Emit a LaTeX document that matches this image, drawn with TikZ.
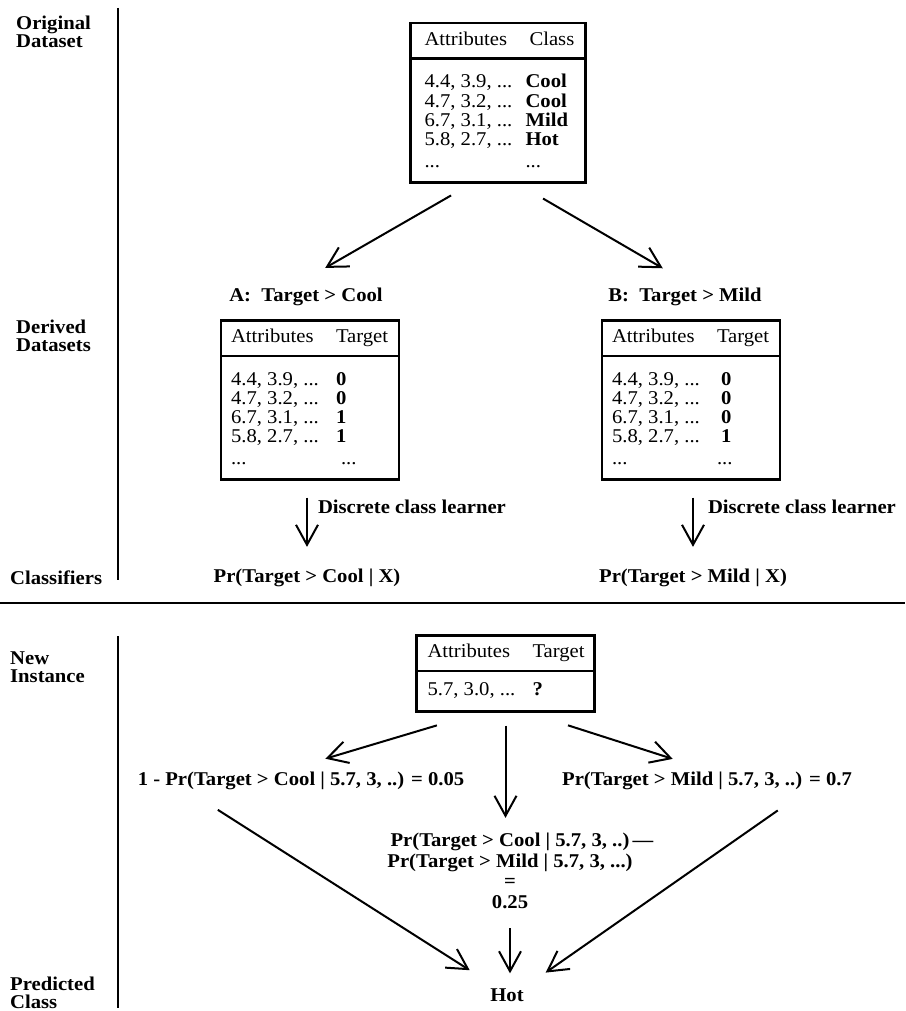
\documentclass[tikz,border=0pt]{standalone}
\usepackage{fontspec}
\setmainfont{Liberation Serif}[FakeStretch=1.06]
\usetikzlibrary{arrows.meta,shapes.multipart}

\newcommand{\basefont}{\fontsize{19.5}{19.5}\selectfont}

% table parts: left padding, width of second column, then contents
\newcommand{\tabhead}[3]{\begin{tabular}{@{\hspace{#1}}p{105pt}@{}p{#2}@{}}\rule[-12pt]{0pt}{33pt}Attributes & #3\end{tabular}}
\newcommand{\tabbody}[3]{\begin{tabular}{@{\hspace{#1}}p{105pt}@{}p{#2}@{}}#3\end{tabular}}
% first and last row struts
\newcommand{\firstrow}{\rule{0pt}{28pt}}
\newcommand{\lastrow}{\rule[-14pt]{0pt}{30.3pt}}

\tikzset{
  dataset/.style={draw, line width=2.5pt, rectangle split, rectangle split parts=2, inner sep=0pt, anchor=north,
    font=\fontsize{19.5}{19}\selectfont},
  tag/.style={font=\bfseries\fontsize{19.5}{18}\selectfont, align=left, anchor=west, inner sep=0pt},
  result/.style={font=\bfseries\basefont, align=center, inner sep=2pt},
  arr/.style={->, line width=2pt},
  bar/.style={line width=2.5pt},
}

\begin{document}
\begin{tikzpicture}[x=1pt, y=-1pt, font=\basefont,
  >={Straight Barb[length=20pt, width=22pt]}]
\useasboundingbox (0,0) rectangle (905,1011);

% Stage labels
\node[tag] (lorig) at (16,32) {Original\\Dataset};
\node[tag] (lderiv) at (16,336) {Derived\\Datasets};
\node[tag] (lclass) at (10,578) {Classifiers};
\node[tag] (lnew) at (10,667) {New\\Instance};
\node[tag] (lpred) at (10,993) {Predicted\\Class};

% Rules
\draw[bar] (118,8) -- (118,580);
\draw[bar] (0,603) -- (905,603);
\draw[bar] (118,636) -- (118,1008);

% Original dataset
\node[dataset] (orig) at (498,22) {\tabhead{14pt}{56pt}{Class}
  \nodepart{two}\tabbody{14pt}{56pt}{\firstrow 4.4, 3.9, ... & \hspace{-4pt}\textbf{Cool}\\
    4.7, 3.2, ... & \hspace{-4pt}\textbf{Cool}\\
    6.7, 3.1, ... & \hspace{-4pt}\textbf{Mild}\\
    5.8, 2.7, ... & \hspace{-4pt}\textbf{Hot}\\
    \lastrow ... & \hspace{-4pt}...}};

% Derived datasets
\node[result] (labA) at (306,297) {A:\ \ Target > Cool};
\node[result] (labB) at (685,297) {B:\ \ Target > Mild};

\node[dataset] (tabA) at (310,319) {\tabhead{10pt}{63pt}{Target}
  \nodepart{two}\tabbody{10pt}{63pt}{\firstrow 4.4, 3.9, ... & \textbf{0}\\
    4.7, 3.2, ... & \textbf{0}\\
    6.7, 3.1, ... & \textbf{1}\\
    5.8, 2.7, ... & \textbf{1}\\
    \lastrow ... & \hspace{5pt}...}};

\node[dataset] (tabB) at (691,319) {\tabhead{10pt}{63pt}{Target}
  \nodepart{two}\tabbody{10pt}{63pt}{\firstrow 4.4, 3.9, ... & \hspace{4pt}\textbf{0}\\
    4.7, 3.2, ... & \hspace{4pt}\textbf{0}\\
    6.7, 3.1, ... & \hspace{4pt}\textbf{0}\\
    5.8, 2.7, ... & \hspace{4pt}\textbf{1}\\
    \lastrow ... & ...}};

% Classifiers
\node[result] (prA) at (307,578) {Pr(Target > Cool | X)};
\node[result] (prB) at (693,578) {Pr(Target > Mild | X)};

% New instance
\node[dataset] (newi) at (505.5,634) {\tabhead{11pt}{62pt}{Target}
  \nodepart{two}\tabbody{11pt}{62pt}{\rule[-15pt]{0pt}{38pt}5.7, 3.0, ... & \textbf{?}}};

\node[result] (resL) at (301,781) {1 - Pr(Target > Cool | 5.7, 3, ..) = 0.05};
\node[result] (resR) at (707,781) {Pr(Target > Mild | 5.7, 3, ..) = 0.7};
\node[result, font=\bfseries\fontsize{19.5}{20.7}\selectfont] (mid) at (510,871)
  {Pr(Target > Cool | 5.7, 3, ..)\rlap{\,---}\\Pr(Target > Mild | 5.7, 3, ...)\\=\\0.25};

% Predicted class
\node[result] (hot) at (507,995) {Hot};

% Arrows
\draw[arr, shorten <=23pt, shorten >=36pt] ([xshift=-27pt]orig.south) -- ([xshift=-12pt]labA.north);
\draw[arr, shorten <=29pt, shorten >=35pt] ([xshift=20pt]orig.south) -- ([xshift=8pt]labB.north);

\draw[arr, shorten <=17pt, shorten >=20pt] (tabA.south -| prA.north) -- (prA.north)
  node[pos=0.3, anchor=west, xshift=8pt, font=\bfseries\basefont, inner sep=2pt] {Discrete class learner};
\draw[arr, shorten <=17pt, shorten >=20pt] (tabB.south -| prB.north) -- (prB.north)
  node[pos=0.3, anchor=west, xshift=12pt, font=\bfseries\basefont, inner sep=2pt] {Discrete class learner};

\draw[arr, shorten <=45pt, shorten >=39pt] ([xshift=-25.5pt]newi.south) -- ([xshift=-13pt]resL.north);
\draw[arr, shorten <=13pt, shorten >=13pt] (newi.south) -- (newi.south |- mid.north);
\draw[arr, shorten <=42pt, shorten >=36pt] ([xshift=22.5pt]newi.south) -- ([xshift=0pt]resR.north);

\draw[arr, shorten <=33pt, shorten >=30pt] ([xshift=-111pt]resL.south) -- ([xshift=-12pt]hot.north);
\draw[arr, shorten <=17pt, shorten >=13pt] (mid.south) -- (mid.south |- hot.north);
\draw[arr, shorten <=32pt, shorten >=24pt] ([xshift=97pt]resR.south) -- ([xshift=19pt]hot.north);
\end{tikzpicture}
\end{document}
